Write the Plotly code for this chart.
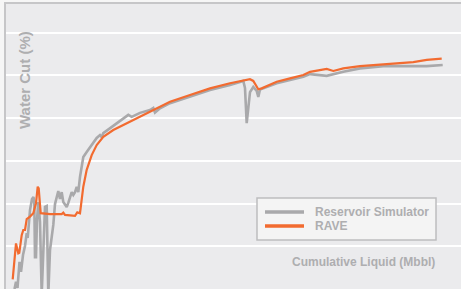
import plotly.graph_objects as go

# Cumulative liquid (arbitrary Mbbl units) and water cut (%)
sim_x = [8.5, 10, 11.5, 13.5, 15, 17, 19, 20.7, 21.7, 24, 26, 27.5, 28.3, 29, 30, 31, 32.3, 34,
         35.7, 37.3, 39, 40.7, 42.3, 44, 47.3, 49, 52.3, 54, 55.7, 57.3, 59, 60.7, 62.3, 64,
         65.7, 67.3, 69, 70.7, 72.3, 74, 75.7, 77.3, 80.7, 84, 87.3, 90.7, 94, 95.7, 97.3,
         104, 110.7, 117.3, 122.3, 125.7, 134, 144, 147.3, 149, 154, 164, 184, 204, 224,
         237.3, 239, 240.7, 242.3, 244, 247.3, 250.7, 252.3, 254, 257.3, 270.7, 284, 297.3,
         304, 320.7, 337.3, 354, 377.3, 394, 407.3, 420.7, 436.7]
sim_y = [0.0, 2.5, 0.4, 9.5, 6.0, 11.9, 15.1, 19.6, 17.9, 27.7, 31.6, 32.3, 29.8, 11.2, 11.2,
         24.2, 30.5, 23.5, -2.0, 11.2, 28.8, 29.1, -2.0, 13.7, 22.5, 29.8, 34.4, 31.6, 34.0,
         30.5, 29.8, 28.8, 30.2, 31.9, 34.0, 33.0, 34.0, 35.8, 34.0, 39.3, 43.5, 46.3, 48.1,
         49.8, 51.2, 53.0, 54.0, 53.3, 54.7, 56.5, 58.2, 60.0, 61.1, 60.4, 61.8, 62.8, 63.5,
         61.9, 63.4, 65.2, 67.5, 69.8, 71.6, 73.0, 70.5, 58.2, 63.5, 69.1, 70.9, 69.5, 67.4,
         70.0, 70.4, 72.2, 73.3, 74.5, 75.4, 74.8, 76.2, 77.4, 78.2, 78.2, 78.0, 78.2, 78.6]

rave_x = [6.7, 10, 12.3, 13.3, 15.7, 17.3, 19, 20.7, 24, 27.3, 30, 31.7, 32.7, 34, 34.7, 44,
          55.7, 57.3, 59, 69, 71.3, 74, 75.7, 77.3, 80.7, 85.7, 90.7, 97.3, 107.3, 120.7,
          137.3, 154, 164, 184, 204, 224, 244, 247.3, 252.3, 255.7, 270.7, 284, 297.3, 304,
          320.7, 327.3, 337.3, 354, 377.3, 407.3, 420.7, 435.7]
rave_y = [3.4, 16.0, 12.5, 12.7, 18.9, 20.7, 20.7, 24.5, 25.4, 26.6, 30.1, 35.9, 35.3, 30.1,
          26.6, 26.3, 26.3, 26.8, 26.0, 25.7, 26.9, 26.6, 31.2, 35.9, 41.8, 47.0, 50.5, 53.4,
          55.8, 58.1, 61.1, 64.0, 65.7, 68.1, 70.4, 72.2, 73.6, 73.0, 70.1, 70.4, 72.7, 73.9,
          75.1, 76.2, 77.2, 76.5, 77.4, 78.2, 78.9, 79.6, 80.4, 80.8]

series_names = ["Reservoir Simulator", "RAVE"]
x_title = "Cumulative Liquid (Mbbl)"
y_title = "Water Cut (%)"

GRAY = "#A9A9AB"
ORANGE = "#F26B30"
TXT = "#AEAEB0"
FONT = "Liberation Sans, Arial, sans-serif"
COLORS = [GRAY, ORANGE]

W, H = 461, 289
L, T = 6, 4
PW, PH = W - L, H - T


def px(x):
    return (x - L) / PW


def py(y):
    return (H - y) / PH


fig = go.Figure()
fig.add_trace(go.Scatter(x=sim_x, y=sim_y, mode="lines", name=series_names[0],
                         line=dict(color=GRAY, width=2.6)))
fig.add_trace(go.Scatter(x=rave_x, y=rave_y, mode="lines", name=series_names[1],
                         line=dict(color=ORANGE, width=2.2)))

shapes = [dict(type="rect", xref="paper", yref="paper", x0=px(257), x1=px(436),
               y0=py(240), y1=py(198), fillcolor="#F4F4F4",
               line=dict(color="#BDBDBF", width=1.5), layer="above")]
annotations = [
    dict(text=y_title, xref="paper", yref="paper", x=px(24), y=py(80),
         xanchor="center", yanchor="middle", textangle=-90, showarrow=False,
         font=dict(family=FONT, size=15, color=TXT, weight="bold")),
    dict(text=x_title, xref="paper", yref="paper", x=px(437), y=py(262),
         xanchor="right", yanchor="middle", showarrow=False,
         font=dict(family=FONT, size=12, color=TXT, weight="bold")),
]
for i, (name, col) in enumerate(zip(series_names, COLORS)):
    yy = 212 + 14 * i
    shapes.append(dict(type="line", xref="paper", yref="paper", x0=px(265), x1=px(304),
                       y0=py(yy), y1=py(yy), line=dict(color=col, width=3.5), layer="above"))
    annotations.append(dict(text=name, xref="paper", yref="paper", x=px(313), y=py(yy),
                            xanchor="left", yanchor="middle", showarrow=False,
                            font=dict(family=FONT, size=12, color=TXT, weight="bold")))

fig.update_layout(
    width=W, height=H,
    margin=dict(l=L, r=0, t=T, b=0),
    paper_bgcolor="#F6F6F6",
    plot_bgcolor="#EBEBED",
    showlegend=False,
    hovermode=False,
    xaxis=dict(range=[0, 455], showgrid=False, zeroline=False, showticklabels=False,
               ticks="", side="top", showline=True, linecolor="#C6C6C8", linewidth=2),
    yaxis=dict(range=[0, 100], dtick=15, showgrid=True, gridcolor="#FFFFFF", gridwidth=1.5,
               zeroline=False, showticklabels=False, ticks="",
               showline=True, linecolor="#C6C6C8", linewidth=2),
    shapes=shapes,
    annotations=annotations,
)

fig.write_html("out.html", config={"displayModeBar": False},
               post_script="document.body.style.margin='0';document.body.style.padding='0';")
